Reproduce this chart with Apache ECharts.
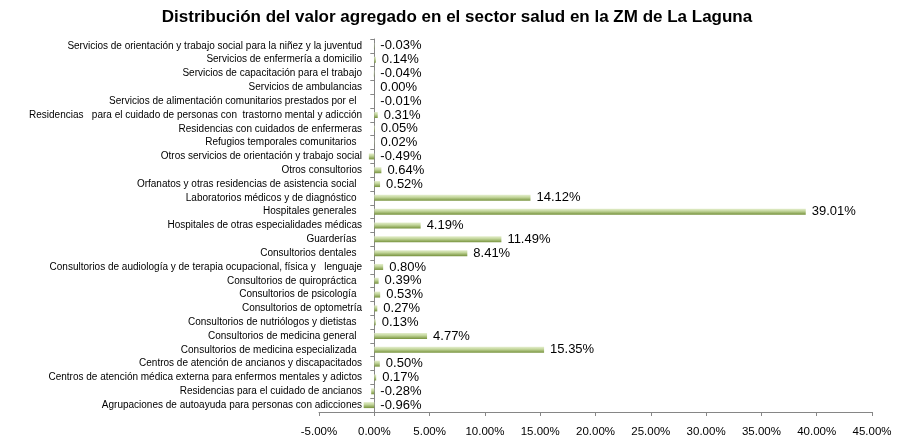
<!DOCTYPE html>
<html>
<head>
<meta charset="utf-8">
<script src="https://cdn.jsdelivr.net/npm/echarts@6/dist/echarts.min.js"></script>
<style>
  html, body { margin: 0; padding: 0; background: #fff; }
  #main { width: 914px; height: 446px; }
</style>
</head>
<body>
<div id="main"></div>
<script>
    // categorias, de abajo hacia arriba (como en el eje de Excel)
    var categorias = [
        'Agrupaciones de autoayuda para personas con adicciones',
        'Residencias para el cuidado de ancianos',
        'Centros de atención médica externa para enfermos mentales y adictos',
        'Centros de atención de ancianos y discapacitados',
        'Consultorios de medicina especializada  ',
        'Consultorios de medicina general  ',
        'Consultorios de nutriólogos y dietistas  ',
        'Consultorios de optometría',
        'Consultorios de psicología  ',
        'Consultorios de quiropráctica  ',
        'Consultorios de audiología y de terapia ocupacional, física y   lenguaje',
        'Consultorios dentales  ',
        'Guarderías  ',
        'Hospitales de otras especialidades médicas',
        'Hospitales generales  ',
        'Laboratorios médicos y de diagnóstico  ',
        'Orfanatos y otras residencias de asistencia social  ',
        'Otros consultorios',
        'Otros servicios de orientación y trabajo social',
        'Refugios temporales comunitarios  ',
        'Residencias con cuidados de enfermeras',
        'Residencias   para el cuidado de personas con  trastorno mental y adicción',
        'Servicios de alimentación comunitarios prestados por el  ',
        'Servicios de ambulancias',
        'Servicios de capacitación para el trabajo',
        'Servicios de enfermería a domicilio',
        'Servicios de orientación y trabajo social para la niñez y la juventud'
    ];

    // participacion en el valor agregado (%)
    var valores = [
        -0.96, -0.28, 0.17, 0.50, 15.35, 4.77, 0.13, 0.27, 0.53, 0.39,
        0.80, 8.41, 11.49, 4.19, 39.01, 14.12, 0.52, 0.64, -0.49, 0.02,
        0.05, 0.31, -0.01, 0.00, -0.04, 0.14, -0.03
    ];

    var myChart = echarts.init(document.getElementById('main'));

    var fuente = 'Liberation Sans';

    option = {
        title: {
            left: 'center',
            top: 4,
            text: 'Distribución del valor agregado en el sector salud en la ZM de La Laguna',
            textStyle: {
                fontFamily: fuente,
                fontSize: 17,
                fontWeight: 'bold',
                color: '#000'
            }
        },
        grid: {
            left: 319,
            right: 42,
            top: 39,
            bottom: 34,
            outerBoundsMode: 'none',
            containLabel: false
        },
        xAxis: {
            type: 'value',
            min: -5,
            max: 45,
            interval: 5,
            splitLine: { show: false },
            axisLine: { show: true, lineStyle: { color: '#868686' } },
            axisTick: { show: true, length: 4, lineStyle: { color: '#868686' } },
            axisLabel: {
                margin: 14,
                fontFamily: fuente,
                fontSize: 11.5,
                color: '#000',
                formatter: function (v) {
                    return v.toFixed(2) + '%';
                }
            }
        },
        yAxis: {
            type: 'category',
            data: categorias,
            axisLine: { show: true, onZero: true, lineStyle: { color: '#868686' } },
            axisTick: { show: true, length: 4, lineStyle: { color: '#868686' } },
            axisLabel: {
                // las etiquetas quedan junto al eje en 0, no en el borde del grid
                margin: -43,
                fontFamily: fuente,
                fontSize: 10,
                color: '#000',
                interval: 0
            }
        },
        series: [{
            type: 'bar',
            data: valores,
            barWidth: 6,
            itemStyle: {
                color: new echarts.graphic.LinearGradient(0, 0, 0, 1, [
                    { offset: 0, color: '#e4eecd' },
                    { offset: 0.4, color: '#c3d69b' },
                    { offset: 1, color: '#76923c' }
                ])
            },
            label: {
                show: true,
                position: 'right',
                distance: 6,
                fontFamily: fuente,
                fontSize: 13,
                color: '#000',
                formatter: function (x) {
                    return x.value.toFixed(2) + '%';
                }
            }
        }]
    };

    myChart.setOption(option);
</script>
</body>
</html>
